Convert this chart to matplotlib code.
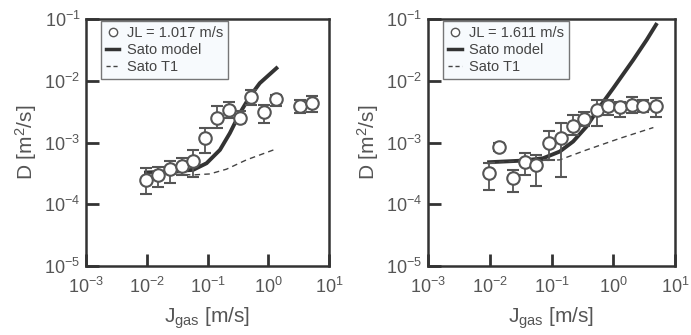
import matplotlib
matplotlib.use("Agg")
import matplotlib.pyplot as plt
from matplotlib.lines import Line2D
import numpy as np

plt.rcParams.update({
    "font.family": ["Liberation Sans", "DejaVu Sans"],
    "mathtext.fontset": "custom",
    "mathtext.rm": "Liberation Sans",
    "mathtext.it": "Liberation Sans",
    "mathtext.default": "regular",
    "text.color": "#555555",
    "axes.labelcolor": "#555555",
    "xtick.color": "#333333",
    "ytick.color": "#333333",
    "xtick.labelcolor": "#555555",
    "ytick.labelcolor": "#555555",
})

# left panel, JL = 1.017 m/s
jl1_label = "JL = 1.017 m/s"
jl1_x = [0.0097, 0.0151, 0.024, 0.0374, 0.058, 0.0904, 0.1406, 0.224, 0.344, 0.515, 0.843, 1.36, 3.30, 5.26]
jl1_y = [2.48e-4, 2.99e-4, 3.70e-4, 4.24e-4, 5.1e-4, 1.2e-3, 2.54e-3, 3.39e-3, 2.54e-3, 5.57e-3, 3.18e-3, 5.05e-3, 3.94e-3, 4.35e-3]
jl1_hi = [3.84e-4, 4.08e-4, 5.1e-4, 5.57e-4, 7.6e-4, 1.71e-3, 3.94e-3, 4.62e-3, 3.27e-3, 7.15e-3, 4.08e-3, 5.93e-3, 4.92e-3, 5.71e-3]
jl1_lo = [1.45e-4, 1.89e-4, 2.24e-4, 2.99e-4, 2.81e-4, 6.7e-4, 1.71e-3, 2.48e-3, 2.06e-3, 4.08e-3, 2.06e-3, 3.94e-3, 2.99e-3, 3.18e-3]
sato1_x = [0.0097, 0.024, 0.058, 0.0964, 0.160, 0.233, 0.340, 0.497, 0.724, 1.36]
sato1_y = [3.27e-4, 3.39e-4, 3.61e-4, 4.62e-4, 7.6e-4, 1.42e-3, 2.99e-3, 5.57e-3, 9.16e-3, 1.60e-2]
t1_1_x = [0.0097, 0.024, 0.058, 0.109, 0.205, 0.437, 1.36]
t1_1_y = [3.2e-4, 3.1e-4, 2.99e-4, 3.1e-4, 3.7e-4, 5.24e-4, 7.9e-4]

# right panel, JL = 1.611 m/s
jl2_label = "JL = 1.611 m/s"
jl2_x = [0.00975, 0.014, 0.0239, 0.037, 0.0571, 0.0906, 0.14, 0.219, 0.339, 0.537, 0.83, 1.28, 1.98, 3.06, 4.92]
jl2_y = [3.18e-4, 8.6e-4, 2.64e-4, 4.8e-4, 4.35e-4, 9.75e-4, 1.17e-3, 1.86e-3, 2.39e-3, 3.39e-3, 3.84e-3, 3.70e-3, 4.08e-3, 3.98e-3, 3.84e-3]
jl2_hi = [4.62e-4, 9.75e-4, 3.61e-4, 6.7e-4, 6.3e-4, 1.51e-3, 2.06e-3, 2.81e-3, 3.18e-3, 4.92e-3, 4.92e-3, 4.62e-3, 5.57e-3, 4.92e-3, 5.24e-3]
jl2_lo = [1.71e-4, 7.4e-4, 1.60e-4, 2.99e-4, 1.98e-4, 5.24e-4, 2.81e-4, 1.33e-3, 1.82e-3, 1.82e-3, 2.81e-3, 2.58e-3, 2.99e-3, 3.18e-3, 2.58e-3]
sato2_x = [0.00975, 0.0348, 0.0733, 0.136, 0.224, 0.370, 0.608, 1.0, 2.11, 3.48, 4.92]
sato2_y = [4.8e-4, 5.1e-4, 5.57e-4, 7.15e-4, 1.04e-3, 1.82e-3, 3.84e-3, 7.6e-3, 2.19e-2, 4.62e-2, 8.1e-2]
t1_2_x = [0.00975, 0.0733, 0.136, 0.370, 1.28, 4.46]
t1_2_y = [4.8e-4, 5.1e-4, 5.24e-4, 7.6e-4, 1.17e-3, 1.75e-3]

panels = [
    (jl1_label, jl1_x, jl1_y, jl1_lo, jl1_hi, sato1_x, sato1_y, t1_1_x, t1_1_y),
    (jl2_label, jl2_x, jl2_y, jl2_lo, jl2_hi, sato2_x, sato2_y, t1_2_x, t1_2_y),
]

fig = plt.figure(figsize=(6.91, 3.35), dpi=100)
rects = [[0.1245, 0.206, 0.3517, 0.737], [0.6194, 0.206, 0.3575, 0.737]]

for rect, (lab, x, y, lo, hi, sx, sy, tx, ty) in zip(rects, panels):
    ax = fig.add_axes(rect)
    y = np.array(y)
    yerr = [y - np.array(lo), np.array(hi) - y]
    ax.errorbar(x, y, yerr=yerr, fmt='o', mfc='white', mec='#555555', ms=9,
                mew=1.5, ecolor='#555555', elinewidth=1.3, capsize=4.5,
                capthick=1.3, zorder=3)
    ax.plot(sx, sy, '-', color='#333333', lw=2.8, zorder=2)
    ax.plot(tx, ty, '--', color='#444444', lw=1.0, dashes=(4, 3), zorder=2)
    ax.set_xscale('log')
    ax.set_yscale('log')
    ax.set_xlim(1e-3, 1e1)
    ax.set_ylim(1e-5, 1e-1)
    ax.set_xticks([1e-3, 1e-2, 1e-1, 1e0, 1e1])
    ax.set_yticks([1e-5, 1e-4, 1e-3, 1e-2, 1e-1])
    ax.minorticks_off()
    ax.tick_params(direction='in', length=9, width=2, labelsize=13,
                   top=False, right=False)
    ax.tick_params(axis='x', pad=8)
    ax.tick_params(axis='y', pad=4)
    for s in ax.spines.values():
        s.set_linewidth(1.8)
        s.set_color('#333333')
    ax.set_xlabel(r'J$_{gas}$ [m/s]', fontsize=15, labelpad=6)
    ax.set_ylabel(r'D [m$^2$/s]', fontsize=15, labelpad=4)
    handles = [
        Line2D([], [], ls='none', marker='o', mfc='white', mec='#555555', ms=6, mew=1.0),
        Line2D([], [], color='#333333', lw=2.5),
        Line2D([], [], color='#444444', lw=1.0, ls='--', dashes=(3, 2)),
    ]
    leg = ax.legend(handles, [lab, 'Sato model', 'Sato T1'], loc='upper left',
                    bbox_to_anchor=(0.062, 0.993),
                    fontsize=10.5, frameon=True, fancybox=False,
                    handlelength=0.9, handletextpad=0.5, borderpad=0.35,
                    labelspacing=0.2, borderaxespad=0)
    leg.get_frame().set_facecolor('#f5f9fd')
    leg.get_frame().set_edgecolor('#555555')
    leg.get_frame().set_linewidth(1.0)
    for t in leg.get_texts():
        t.set_color('#444444')

fig.savefig('out.png', dpi=100)
